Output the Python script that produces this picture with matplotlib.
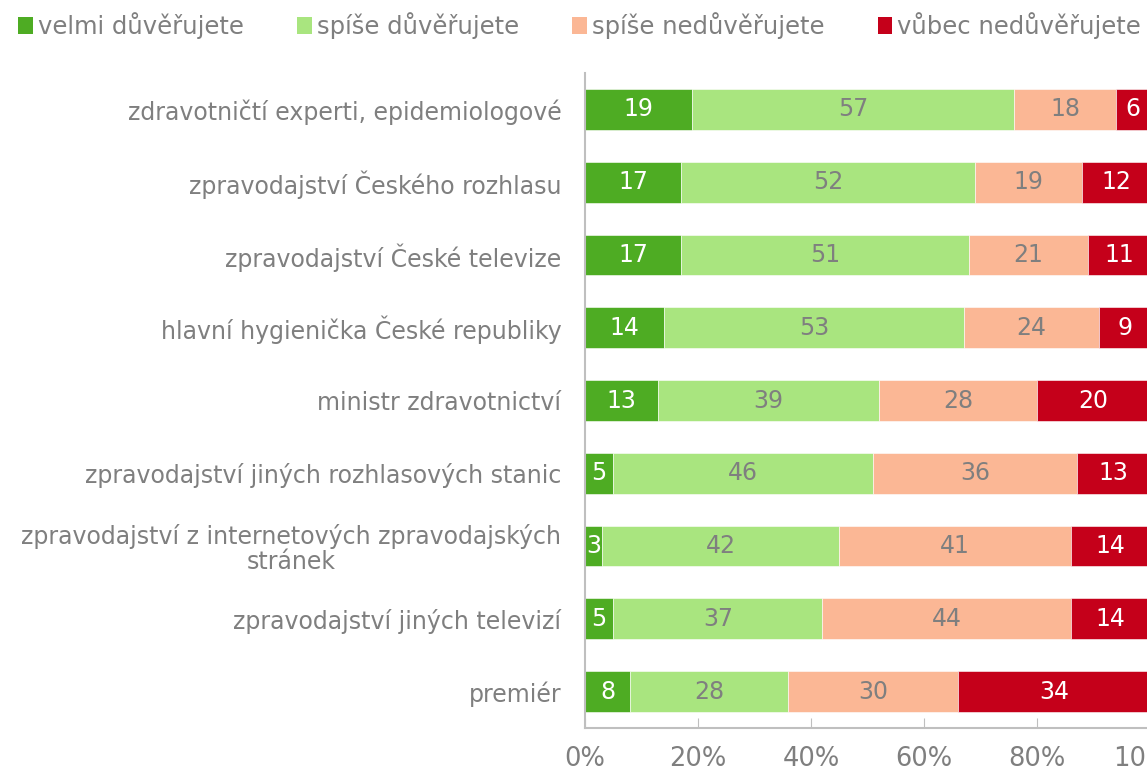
import matplotlib.pyplot as plt
from matplotlib.patches import Patch
import numpy as np

# data
categories = [
    "zdravotničtí experti, epidemiologové",
    "zpravodajství Českého rozhlasu",
    "zpravodajství České televize",
    "hlavní hygienička České republiky",
    "ministr zdravotnictví",
    "zpravodajství jiných rozhlasových stanic",
    "zpravodajství z internetových zpravodajských\nstránek",
    "zpravodajství jiných televizí",
    "premiér",
]
series_names = ["velmi důvěřujete", "spíše důvěřujete", "spíše nedůvěřujete", "vůbec nedůvěřujete"]
velmi = [19, 17, 17, 14, 13, 5, 3, 5, 8]
spise = [57, 52, 51, 53, 39, 46, 42, 37, 28]
spise_ne = [18, 19, 21, 24, 28, 36, 41, 44, 30]
vubec_ne = [6, 12, 11, 9, 20, 13, 14, 14, 34]

colors = ["#4EAC23", "#A9E57F", "#FBB795", "#C5001A"]
label_colors = ["white", "#7F7F7F", "#7F7F7F", "white"]
gray = "#7F7F7F"

plt.rcParams['font.family'] = ['DejaVu Sans']

fig = plt.figure(figsize=(11.47, 7.71), dpi=100)
W, H = 1147, 771
ax = fig.add_axes([585 / W, (H - 728) / H, (1150 - 585) / W, (728 - 73) / H])

y = np.arange(len(categories))
left = np.zeros(len(categories))
for vals, col, lc in zip([velmi, spise, spise_ne, vubec_ne], colors, label_colors):
    vals = np.array(vals, dtype=float)
    bars = ax.barh(y, vals, left=left, height=0.56, color=col,
                   edgecolor="white", linewidth=0.4)
    ax.bar_label(bars, labels=[str(int(v)) for v in vals], label_type="center",
                 color=lc, fontsize=17)
    left += vals

ax.set_xlim(0, 100)
ax.set_ylim(len(categories) - 0.5, -0.5)
ax.set_yticks(y)
ax.set_yticklabels(categories, fontsize=17, color=gray, multialignment="center",
                   linespacing=1.05)
ax.tick_params(axis="y", length=0, pad=17)
ax.set_xticks([0, 20, 40, 60, 80, 100])
ax.set_xticklabels(["0%", "20%", "40%", "60%", "80%", "100%"], fontsize=18.5, color=gray)
ax.tick_params(axis="x", direction="in", length=7, color="#BFBFBF", pad=13)

for s in ["top", "right"]:
    ax.spines[s].set_visible(False)
for s in ["left", "bottom"]:
    ax.spines[s].set_color("#BFBFBF")
    ax.spines[s].set_linewidth(1.5)

handles = [Patch(facecolor=c, edgecolor="none") for c in colors]
leg = fig.legend(handles, series_names, loc="upper left", bbox_to_anchor=(0.0055, 1.0),
                 ncol=4, frameon=False, fontsize=17.5, handlelength=0.6, handleheight=0.75,
                 handletextpad=0.2, columnspacing=2.2, borderaxespad=0.1)
for t in leg.get_texts():
    t.set_color(gray)

fig.savefig("out.png", dpi=100)
